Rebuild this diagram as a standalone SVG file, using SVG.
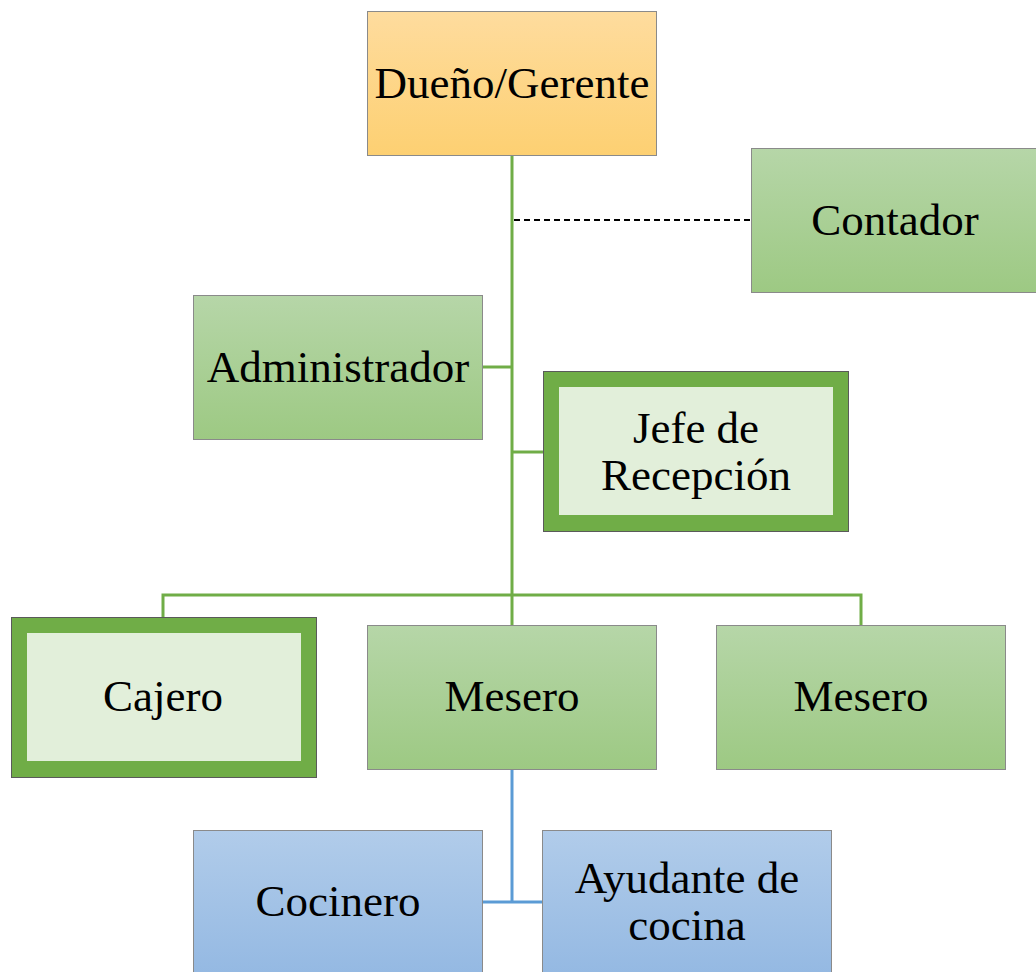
<svg xmlns="http://www.w3.org/2000/svg" width="1036" height="972" viewBox="0 0 1036 972">
<defs>
<linearGradient id="gOr" x1="0" y1="0" x2="0" y2="1"><stop offset="0" stop-color="#FEDC9E"/><stop offset="1" stop-color="#FDD072"/></linearGradient>
<linearGradient id="gGr" x1="0" y1="0" x2="0" y2="1"><stop offset="0" stop-color="#B6D6A8"/><stop offset="1" stop-color="#9DC983"/></linearGradient>
<linearGradient id="gBl" x1="0" y1="0" x2="0" y2="1"><stop offset="0" stop-color="#B1CCEA"/><stop offset="1" stop-color="#93B8E2"/></linearGradient>
<style>
.box{stroke:#8A8A8A;stroke-width:1}
.thick{fill:#70AD47;stroke:#5a5a5a;stroke-width:1}
.inner{fill:#E2EFDA}
.t{font-family:"Liberation Serif","Times New Roman",serif;font-size:45px;fill:#000;text-anchor:middle}
.gl{stroke:#70AD47;stroke-width:3;fill:none}
.bl{stroke:#5B9BD5;stroke-width:3;fill:none}
.dash{stroke:#000;stroke-width:2;stroke-dasharray:6,4;fill:none}
</style>
</defs>
<rect width="1036" height="972" fill="#fff"/>
<g id="connectors">
<path class="gl" d="M512 155V625"/>
<path class="dash" d="M514 220H751"/>
<path class="gl" d="M482 367H512"/>
<path class="gl" d="M512 452H543"/>
<path class="gl" d="M163 617V595H861V625"/>
<path class="bl" d="M512 769V902"/>
<path class="bl" d="M482 902H542"/>
</g>
<g id="n-dueno"><rect class="box" x="367.500" y="11.500" width="289" height="144" fill="url(#gOr)"/><text class="t" x="512" y="98">Dueño/Gerente</text></g>
<g id="n-contador"><rect class="box" x="751.500" y="148.500" width="290" height="144" fill="url(#gGr)"/><text class="t" x="895" y="235">Contador</text></g>
<g id="n-admin"><rect class="box" x="193.500" y="295.500" width="289" height="144" fill="url(#gGr)"/><text class="t" x="338" y="382">Administrador</text></g>
<g id="n-jefe"><rect class="thick" x="543.500" y="371.500" width="305" height="160"/><rect class="inner" x="559" y="387" width="274" height="128"/><text class="t" x="696" y="443">Jefe de</text><text class="t" x="696" y="490">Recepción</text></g>
<g id="n-cajero"><rect class="thick" x="11.500" y="617.500" width="305" height="160"/><rect class="inner" x="27" y="633" width="274" height="128"/><text class="t" x="163" y="711">Cajero</text></g>
<g id="n-mesero1"><rect class="box" x="367.500" y="625.500" width="289" height="144" fill="url(#gGr)"/><text class="t" x="512" y="711">Mesero</text></g>
<g id="n-mesero2"><rect class="box" x="716.500" y="625.500" width="289" height="144" fill="url(#gGr)"/><text class="t" x="861" y="711">Mesero</text></g>
<g id="n-cocinero"><rect class="box" x="193.500" y="830.500" width="289" height="150" fill="url(#gBl)"/><text class="t" x="338" y="916">Cocinero</text></g>
<g id="n-ayudante"><rect class="box" x="542.500" y="830.500" width="289" height="150" fill="url(#gBl)"/><text class="t" x="687" y="893">Ayudante de</text><text class="t" x="687" y="940">cocina</text></g>
</svg>
